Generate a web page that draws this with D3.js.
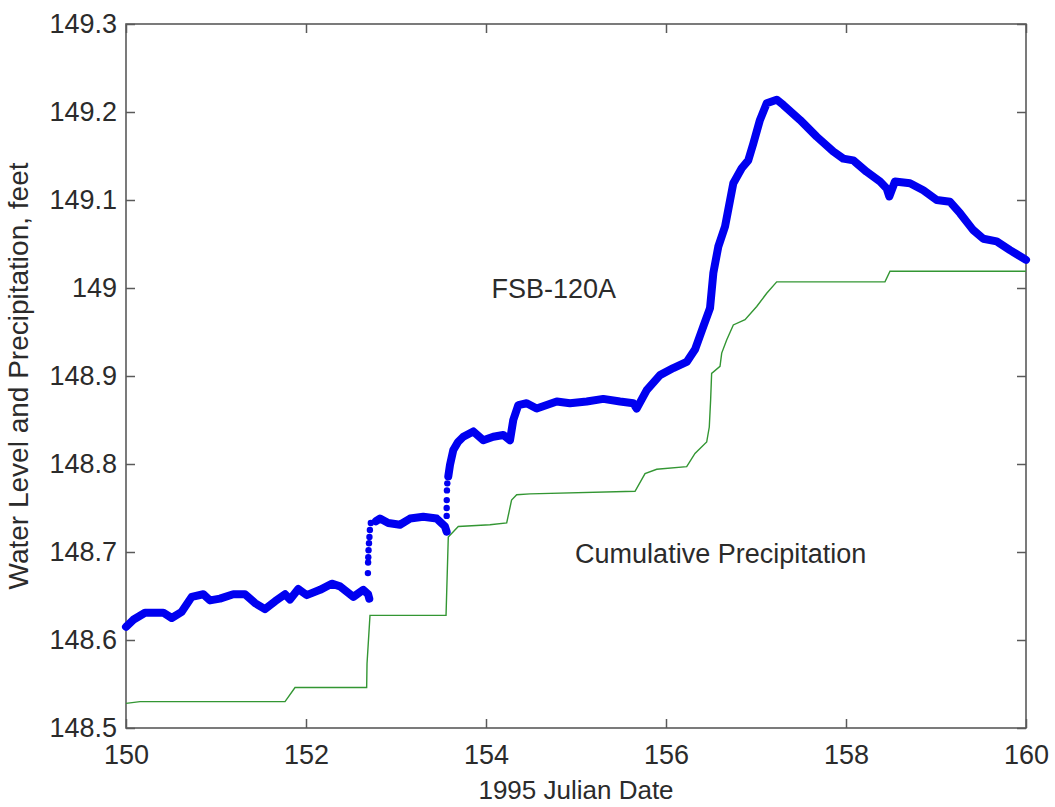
<!DOCTYPE html>
<html>
<head>
<meta charset="utf-8">
<script src="https://cdn.jsdelivr.net/npm/d3@7"></script>
<style>
  body { margin: 0; background: #fff; }
  svg { display: block; }
  text { font-family: "Liberation Sans", Arial, Helvetica, sans-serif; fill: #2b2b2b; }
</style>
</head>
<body>
<svg id="chart" width="1055" height="807"></svg>
<script>
// Axis ticks
const xTicks = [150, 152, 154, 156, 158, 160];
const yTicks = [148.5, 148.6, 148.7, 148.8, 148.9, 149.0, 149.1, 149.2, 149.3];
const yTickLabels = ["148.5", "148.6", "148.7", "148.8", "148.9", "149", "149.1", "149.2", "149.3"];

// FSB-120A water level, feet [julian day, level]
const levelEarly = [
  [150.000, 148.615], [150.081, 148.623], [150.211, 148.631], [150.414, 148.631],
  [150.508, 148.625], [150.619, 148.632], [150.730, 148.649], [150.859, 148.652],
  [150.933, 148.645], [151.044, 148.647], [151.192, 148.652], [151.322, 148.652],
  [151.433, 148.642], [151.544, 148.635], [151.656, 148.644], [151.767, 148.652],
  [151.822, 148.646], [151.914, 148.658], [152.008, 148.651], [152.156, 148.657],
  [152.286, 148.664], [152.378, 148.661], [152.526, 148.649], [152.637, 148.657],
  [152.690, 148.652], [152.703, 148.647]
];
const levelRiseA = [
  [152.688, 148.676], [152.690, 148.688], [152.692, 148.694], [152.695, 148.702],
  [152.700, 148.710], [152.705, 148.717], [152.710, 148.725], [152.720, 148.733]
];
const levelMiddle = [
  [152.778, 148.735], [152.822, 148.738], [152.914, 148.733], [153.044, 148.731],
  [153.156, 148.738], [153.303, 148.740], [153.452, 148.738], [153.544, 148.729],
  [153.563, 148.723]
];
const levelRiseB = [
  [153.563, 148.741], [153.563, 148.750], [153.564, 148.759], [153.566, 148.770],
  [153.570, 148.778]
];
const levelLate = [
  [153.581, 148.786], [153.600, 148.799], [153.637, 148.816], [153.689, 148.825],
  [153.748, 148.831], [153.859, 148.837], [153.970, 148.827], [154.081, 148.831],
  [154.192, 148.833], [154.267, 148.827], [154.303, 148.850], [154.359, 148.867],
  [154.452, 148.869], [154.563, 148.863], [154.786, 148.871], [154.933, 148.869],
  [155.119, 148.871], [155.303, 148.874], [155.489, 148.871], [155.637, 148.869],
  [155.674, 148.863], [155.786, 148.884], [155.933, 148.901], [156.081, 148.909],
  [156.230, 148.916], [156.322, 148.930], [156.414, 148.956], [156.489, 148.977],
  [156.526, 149.017], [156.581, 149.047], [156.656, 149.070], [156.748, 149.119],
  [156.841, 149.136], [156.914, 149.145], [156.970, 149.164], [157.044, 149.191],
  [157.119, 149.210], [157.230, 149.214], [157.303, 149.208], [157.489, 149.191],
  [157.674, 149.172], [157.859, 149.155], [157.970, 149.147], [158.081, 149.145],
  [158.230, 149.132], [158.378, 149.121], [158.452, 149.113], [158.481, 149.104],
  [158.544, 149.121], [158.711, 149.119], [158.859, 149.111], [159.008, 149.100],
  [159.156, 149.098], [159.267, 149.085], [159.411, 149.066], [159.526, 149.056],
  [159.674, 149.053], [159.822, 149.043], [160.000, 149.032]
];

// Cumulative precipitation, plotted on the same feet scale [julian day, value]
const precipitation = [
  [150.000, 148.528], [150.156, 148.530], [151.767, 148.530], [151.878, 148.546],
  [152.674, 148.546], [152.678, 148.573], [152.711, 148.628], [153.556, 148.628],
  [153.581, 148.717], [153.692, 148.729], [154.044, 148.731], [154.230, 148.733],
  [154.284, 148.759], [154.341, 148.765], [154.489, 148.766], [155.656, 148.769],
  [155.767, 148.789], [155.897, 148.794], [156.230, 148.797], [156.322, 148.812],
  [156.452, 148.825], [156.481, 148.842], [156.496, 148.873], [156.507, 148.903],
  [156.600, 148.911], [156.619, 148.926], [156.674, 148.941], [156.748, 148.958],
  [156.878, 148.964], [157.008, 148.979], [157.119, 148.994], [157.230, 149.007],
  [158.433, 149.007], [158.489, 149.019], [160.000, 149.019]
];

const W = 1055, H = 807;
const margin = { top: 24, right: 29, bottom: 79, left: 126 };
const iw = W - margin.left - margin.right;
const ih = H - margin.top - margin.bottom;

const svg = d3.select("#chart");
const g = svg.append("g").attr("transform", `translate(${margin.left},${margin.top})`);

const x = d3.scaleLinear().domain([150, 160]).range([0, iw]);
const y = d3.scaleLinear().domain([148.5, 149.3]).range([ih, 0]);

const axisColor = "#5a5a5a";
const tickFont = 27;

// Frame
g.append("rect").attr("width", iw).attr("height", ih)
  .attr("fill", "none").attr("stroke", axisColor).attr("stroke-width", 1.6);

function styleAxis(sel, showText) {
  sel.select(".domain").remove();
  sel.selectAll(".tick line").attr("stroke", axisColor).attr("stroke-width", 1.5);
  sel.selectAll(".tick text")
    .attr("font-size", tickFont)
    .attr("fill", "#2b2b2b")
    .style("font-family", "'Liberation Sans', Arial, sans-serif")
    .attr("display", showText ? null : "none");
}

g.append("g").attr("transform", `translate(0,${ih})`)
  .call(d3.axisBottom(x).tickValues(xTicks).tickFormat(d3.format("d"))
    .tickSizeInner(-9).tickSizeOuter(0).tickPadding(17))
  .call(s => styleAxis(s, true));

g.append("g")
  .call(d3.axisTop(x).tickValues(xTicks).tickSizeInner(-9).tickSizeOuter(0))
  .call(s => styleAxis(s, false));

g.append("g")
  .call(d3.axisLeft(y).tickValues(yTicks).tickFormat((d, i) => yTickLabels[i])
    .tickSizeInner(-9).tickSizeOuter(0).tickPadding(9))
  .call(s => styleAxis(s, true));

g.append("g").attr("transform", `translate(${iw},0)`)
  .call(d3.axisRight(y).tickValues(yTicks).tickSizeInner(-9).tickSizeOuter(0))
  .call(s => styleAxis(s, false));

// Precipitation line
const line = d3.line().x(d => x(d[0])).y(d => y(d[1]));
g.append("path").datum(precipitation)
  .attr("d", line).attr("fill", "none")
  .attr("stroke", "#339633").attr("stroke-width", 1.4);

// Water level: dense dot runs drawn as a thick band, sparse rises as separate dots
const blue = "#0000f0";
[levelEarly, levelMiddle, levelLate].forEach(seg => {
  g.append("path").datum(seg)
    .attr("d", line).attr("fill", "none")
    .attr("stroke", blue).attr("stroke-width", 8)
    .attr("stroke-linejoin", "round").attr("stroke-linecap", "round");
});
g.append("g").selectAll("circle")
  .data([...levelRiseA, ...levelRiseB])
  .join("circle")
  .attr("cx", d => x(d[0])).attr("cy", d => y(d[1]))
  .attr("r", 3.2).attr("fill", blue);

// Annotations
g.append("text").attr("x", x(154.06)).attr("y", y(149.0) + 10)
  .attr("font-size", 27).text("FSB-120A");
g.append("text").attr("x", x(154.99)).attr("y", y(148.69) + 2)
  .attr("font-size", 27).text("Cumulative Precipitation");

// Axis titles
svg.append("text")
  .attr("x", margin.left + iw / 2).attr("y", 799)
  .attr("text-anchor", "middle").attr("font-size", 26)
  .text("1995 Julian Date");
svg.append("text")
  .attr("transform", `translate(28,${margin.top + ih / 2}) rotate(-90)`)
  .attr("text-anchor", "middle").attr("font-size", 28)
  .text("Water Level and Precipitation, feet");
</script>
</body>
</html>
